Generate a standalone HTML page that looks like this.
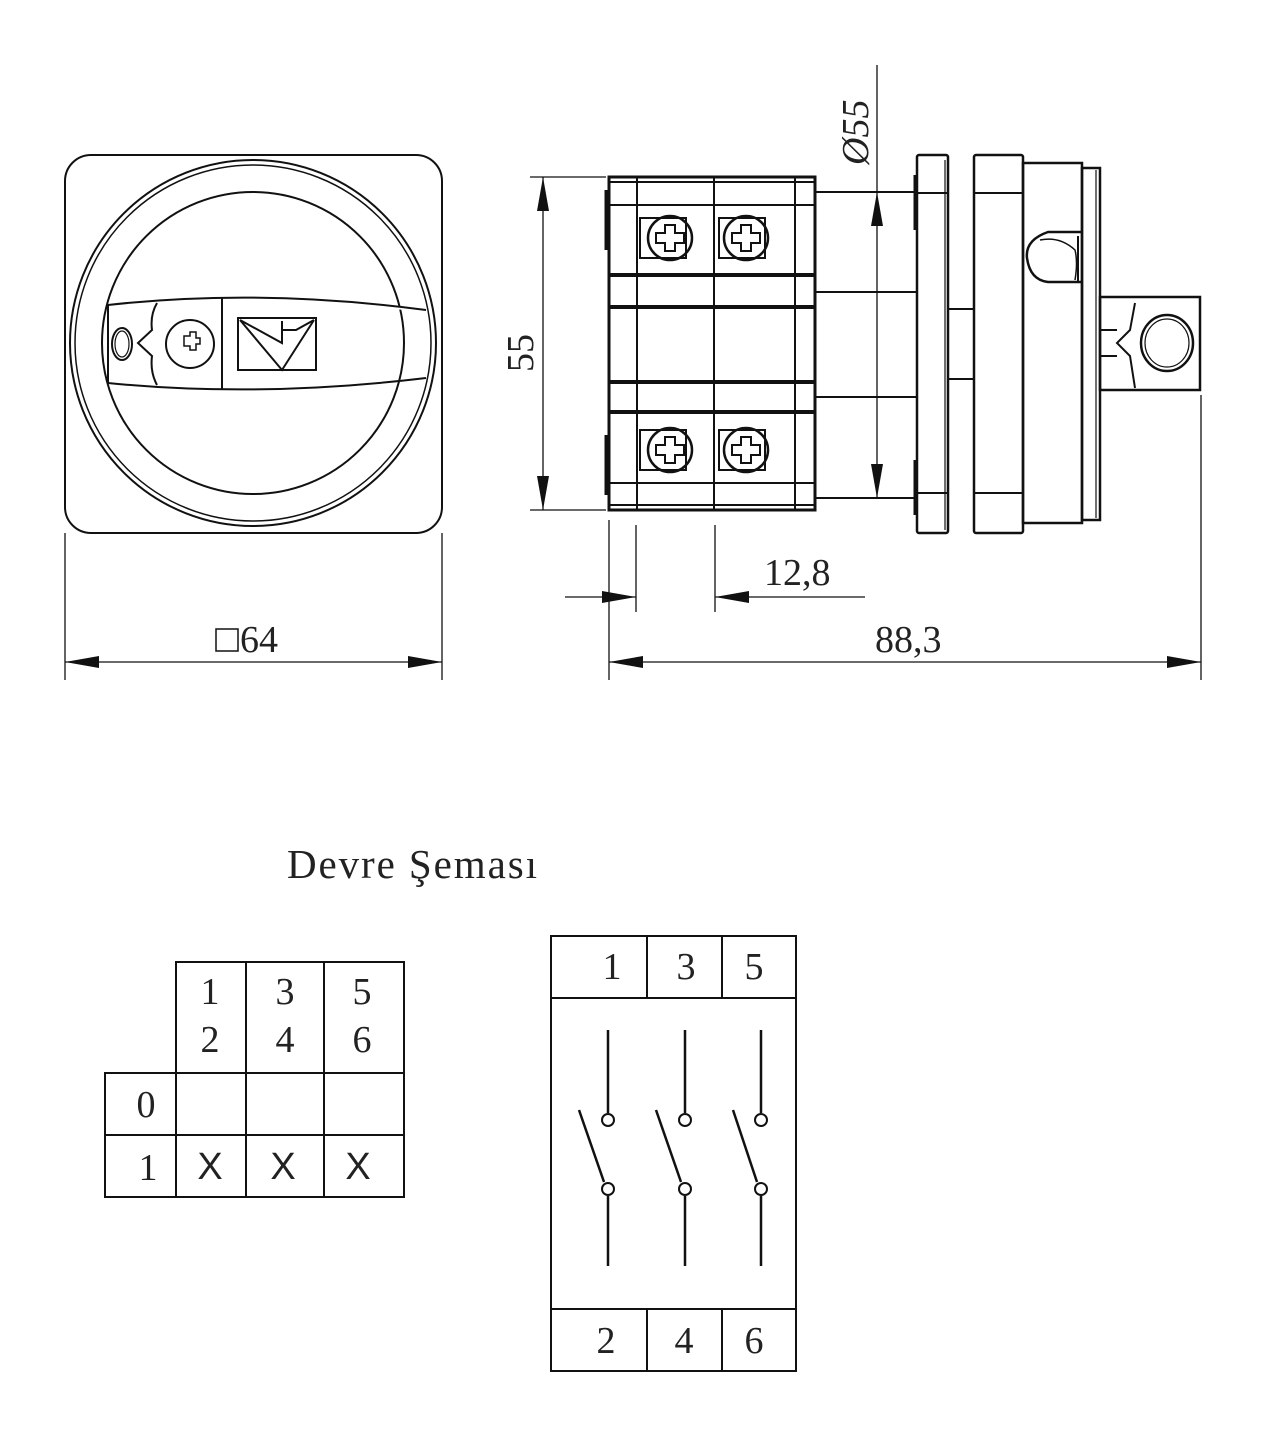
<!DOCTYPE html>
<html><head><meta charset="utf-8"><style>
html,body{margin:0;padding:0;background:#fff;}
svg{display:block;}
text{font-family:"Liberation Serif",serif;fill:#222;}
text.s{font-family:"Liberation Sans",sans-serif;}
</style></head><body>
<svg width="1268" height="1437" viewBox="0 0 1268 1437" xmlns="http://www.w3.org/2000/svg">
<g fill="none" stroke="#111" stroke-width="2">
<!-- front view -->
<rect x="65" y="155" width="377" height="378" rx="26"/>
<circle cx="253" cy="343" r="183"/>
<circle cx="253" cy="343" r="178" stroke-width="1.5"/>
<circle cx="253" cy="343" r="151"/>
<path d="M108,305 Q260,288 426,310" fill="#fff"/>
<path d="M108,383 Q260,398 426,378"/>
<path d="M108,305 L108,383"/>
<line x1="222" y1="298" x2="222" y2="390"/>
<path d="M157,303 Q150,315 152,330 L138,343 L152,356 Q150,372 157,385"/>
<ellipse cx="122" cy="344" rx="10" ry="16"/>
<ellipse cx="122" cy="344" rx="7" ry="13" stroke-width="1.2"/>
<circle cx="190" cy="344" r="24"/>
<path d="M184,336 h6 v-4 h6 v6 h4 v6 h-4 v6 h-6 v-4 h-6 v-6 z" stroke-width="1.5"/>
<rect x="238" y="318" width="78" height="52"/>
<path d="M240,320 L282,343 L282,321 M240,320 L282,370 L314,320 M282,330 L296,330 L314,320"/>
<!-- side view body -->
<rect x="609" y="177" width="206" height="333" stroke-width="3"/>
<line x1="609" y1="182" x2="815" y2="182"/>
<line x1="609" y1="205" x2="815" y2="205"/>
<line x1="609" y1="275" x2="815" y2="275" stroke-width="4"/>
<line x1="609" y1="307" x2="815" y2="307" stroke-width="4"/>
<line x1="609" y1="382" x2="815" y2="382" stroke-width="4"/>
<line x1="609" y1="412" x2="815" y2="412" stroke-width="4"/>
<line x1="609" y1="483" x2="815" y2="483"/>
<line x1="609" y1="505" x2="815" y2="505"/>
<line x1="637" y1="177" x2="637" y2="510"/>
<line x1="714" y1="177" x2="714" y2="510"/>
<line x1="795" y1="177" x2="795" y2="510"/>
<line x1="606" y1="190" x2="606" y2="250" stroke-width="3"/>
<line x1="606" y1="435" x2="606" y2="495" stroke-width="3"/>
<rect x="640" y="218" width="46" height="40"/>
<rect x="719" y="218" width="46" height="40"/>
<rect x="640" y="430" width="46" height="40"/>
<rect x="719" y="430" width="46" height="40"/>
<g stroke-width="2.5">
<circle cx="670" cy="238" r="22"/><circle cx="746" cy="238" r="22"/>
<circle cx="670" cy="450" r="22"/><circle cx="746" cy="450" r="22"/>
</g>
<path d="M665,225h10v8h9v10h-9v8h-10v-8h-9v-10h9z M741,225h10v8h9v10h-9v8h-10v-8h-9v-10h9z M665,437h10v8h9v10h-9v8h-10v-8h-9v-10h9z M741,437h10v8h9v10h-9v8h-10v-8h-9v-10h9z"/>
<line x1="815" y1="192" x2="917" y2="192"/>
<line x1="815" y1="292" x2="917" y2="292"/>
<line x1="815" y1="397" x2="917" y2="397"/>
<line x1="815" y1="498" x2="917" y2="498"/>
<rect x="917" y="155" width="31" height="378" rx="2" stroke-width="2.5"/>
<line x1="917" y1="193" x2="948" y2="193"/>
<line x1="917" y1="493" x2="948" y2="493"/>
<line x1="945" y1="160" x2="945" y2="530" stroke-width="1.2"/>
<line x1="915" y1="175" x2="915" y2="230" stroke-width="3"/>
<line x1="915" y1="460" x2="915" y2="515" stroke-width="3"/>
<rect x="948" y="309" width="26" height="70"/>
<rect x="974" y="155" width="49" height="378" rx="2" stroke-width="2.5"/>
<line x1="974" y1="193" x2="1023" y2="193"/>
<line x1="974" y1="493" x2="1023" y2="493"/>
<rect x="1023" y="163" width="59" height="360" stroke-width="2.5"/>
<rect x="1082" y="168" width="18" height="352" stroke-width="2.5"/>
<line x1="1096" y1="170" x2="1096" y2="518" stroke-width="1.2"/>
<path d="M1082,232 L1048,232 Q1025,240 1027,258 Q1030,280 1048,282 L1082,282" stroke-width="2.5"/>
<path d="M1040,240 Q1060,236 1075,250 Q1078,262 1075,280" stroke-width="1.5"/>
<line x1="1078" y1="236" x2="1078" y2="282"/>
<rect x="1100" y="297" width="100" height="93" stroke-width="2.5"/>
<path d="M1135,303 L1130,330 L1117,343 L1130,356 L1135,388"/>
<line x1="1100" y1="330" x2="1117" y2="330"/><line x1="1100" y1="356" x2="1117" y2="356"/>
<ellipse cx="1167" cy="343" rx="26" ry="28" stroke-width="2.5"/>
<ellipse cx="1167" cy="343" rx="22" ry="24" stroke-width="1.2"/>
<!-- dimension lines -->
<g stroke-width="1.3">
<line x1="530" y1="177" x2="606" y2="177"/>
<line x1="530" y1="510" x2="606" y2="510"/>
<line x1="543" y1="177" x2="543" y2="510"/>
<line x1="877" y1="65" x2="877" y2="498"/>
<line x1="65" y1="533" x2="65" y2="680"/>
<line x1="442" y1="533" x2="442" y2="680"/>
<line x1="65" y1="662" x2="442" y2="662"/>
<line x1="609" y1="520" x2="609" y2="680"/>
<line x1="1201" y1="395" x2="1201" y2="680"/>
<line x1="609" y1="662" x2="1201" y2="662"/>
<line x1="636" y1="525" x2="636" y2="612"/>
<line x1="715" y1="525" x2="715" y2="612"/>
<line x1="565" y1="597" x2="636" y2="597"/>
<line x1="865" y1="597" x2="715" y2="597"/>
</g>
<rect x="216" y="629" width="22" height="22" stroke-width="1.5"/>
<!-- left table -->
<path d="M176,962 H404 V1197 H105 V1073 H176 Z"/>
<line x1="176" y1="962" x2="176" y2="1197"/>
<line x1="246" y1="962" x2="246" y2="1197"/>
<line x1="324" y1="962" x2="324" y2="1197"/>
<line x1="105" y1="1073" x2="404" y2="1073"/>
<line x1="105" y1="1135" x2="404" y2="1135"/>
<!-- right diagram -->
<rect x="551" y="936" width="245" height="435"/>
<line x1="551" y1="998" x2="796" y2="998"/>
<line x1="551" y1="1309" x2="796" y2="1309"/>
<line x1="647" y1="936" x2="647" y2="998"/><line x1="722" y1="936" x2="722" y2="998"/>
<line x1="647" y1="1309" x2="647" y2="1371"/><line x1="722" y1="1309" x2="722" y2="1371"/>
<g stroke-width="2.5">
<line x1="608" y1="1030" x2="608" y2="1113"/><circle cx="608" cy="1120" r="6" stroke-width="2"/>
<line x1="579" y1="1110" x2="604" y2="1182"/><circle cx="608" cy="1189" r="6" stroke-width="2"/>
<line x1="608" y1="1196" x2="608" y2="1266"/>
<line x1="685" y1="1030" x2="685" y2="1113"/><circle cx="685" cy="1120" r="6" stroke-width="2"/>
<line x1="656" y1="1110" x2="681" y2="1182"/><circle cx="685" cy="1189" r="6" stroke-width="2"/>
<line x1="685" y1="1196" x2="685" y2="1266"/>
<line x1="761" y1="1030" x2="761" y2="1113"/><circle cx="761" cy="1120" r="6" stroke-width="2"/>
<line x1="733" y1="1110" x2="757" y2="1182"/><circle cx="761" cy="1189" r="6" stroke-width="2"/>
<line x1="761" y1="1196" x2="761" y2="1266"/>
</g>
</g>
<!-- arrowheads -->
<g fill="#111" stroke="none">
<polygon points="543,177 537,211 549,211"/>
<polygon points="543,510 537,476 549,476"/>
<polygon points="877,192 871,226 883,226"/>
<polygon points="877,498 871,464 883,464"/>
<polygon points="65,662 99,656 99,668"/>
<polygon points="442,662 408,656 408,668"/>
<polygon points="609,662 643,656 643,668"/>
<polygon points="1201,662 1167,656 1167,668"/>
<polygon points="636,597 602,591 602,603"/>
<polygon points="715,597 749,591 749,603"/>
</g>
<!-- texts -->
<text x="240" y="652" font-size="38">64</text>
<text x="875" y="652" font-size="38">88,3</text>
<text x="764" y="585" font-size="38">12,8</text>
<text transform="translate(533,372) rotate(-90)" font-size="38">55</text>
<text transform="translate(868,165) rotate(-90)" font-size="38" font-style="italic">Ø55</text>
<text x="287" y="878" font-size="41" textLength="250">Devre Şeması</text>
<g font-size="38" text-anchor="middle">
<text x="210" y="1004">1</text><text x="210" y="1052">2</text>
<text x="285" y="1004">3</text><text x="285" y="1052">4</text>
<text x="362" y="1004">5</text><text x="362" y="1052">6</text>
<text x="146" y="1117">0</text><text x="148" y="1180">1</text>
<text x="612" y="979">1</text><text x="686" y="979">3</text><text x="754" y="979">5</text>
<text x="606" y="1353">2</text><text x="684" y="1353">4</text><text x="754" y="1353">6</text>
<text class="s" x="210" y="1179">X</text><text class="s" x="283" y="1179">X</text><text class="s" x="358" y="1179">X</text>
</g>
</svg>
</body></html>
